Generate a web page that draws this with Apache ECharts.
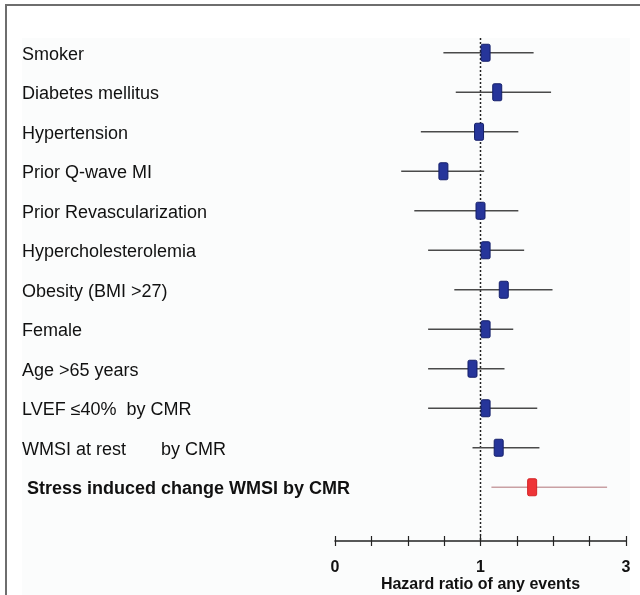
<!DOCTYPE html>
<html>
<head>
<meta charset="utf-8">
<script src="https://cdn.jsdelivr.net/npm/echarts@6/dist/echarts.min.js"></script>
<style>
  html, body { margin: 0; background: #fff; }
  #chart { width: 640px; height: 595px; }
</style>
</head>
<body>
<div id="chart"></div>
<script>
// risk factors, top to bottom
const factors = [
  'Smoker',
  'Diabetes mellitus',
  'Hypertension',
  'Prior Q-wave MI',
  'Prior Revascularization',
  'Hypercholesterolemia',
  'Obesity (BMI >27)',
  'Female',
  'Age >65 years',
  'LVEF \u226440%  by CMR',
  'WMSI at rest       by CMR',
  'Stress induced change WMSI by CMR',
];
const hazardRatio = [1.07, 1.23, 0.99, 0.745, 1.0, 1.07, 1.32, 1.07, 0.945, 1.07, 1.25, 1.71];
const ciLow = [0.745, 0.83, 0.59, 0.455, 0.545, 0.64, 0.82, 0.64, 0.64, 0.64, 0.945, 1.15];
const ciHigh = [1.73, 1.97, 1.52, 1.05, 1.52, 1.6, 1.99, 1.45, 1.33, 1.78, 1.81, 2.74];
const tickValues = [0, 1, 3];
const refValue = 1;

// split scale: 0..1 on left half, 1..3 on right half
const toAxis = v => (v <= 1 ? v : 1 + (v - 1) / 2);
const axisMax = toAxis(tickValues[tickValues.length - 1]);

const rows = factors.map((f, i) => [i, ciLow[i], ciHigh[i], hazardRatio[i]]);
const lastRow = factors.length - 1;

const chart = echarts.init(document.getElementById('chart'));

chart.setOption({
  animation: false,
  textStyle: { fontFamily: '"Liberation Sans", Arial, sans-serif' },
  graphic: [
    {
      type: 'rect',
      z: -10,
      shape: { x: 22, y: 38, width: 608, height: 557 },
      style: { fill: '#fbfcfc' },
    },
    {
      type: 'polyline',
      shape: { points: [[6, 595], [6, 5], [640, 5]] },
      style: { stroke: '#6e6e6e', lineWidth: 2, fill: null },
    },
  ],
  grid: [
    { left: 335, right: 14, top: 33, bottom: 88, outerBoundsMode: 'none' },
    { left: 335, right: 14, top: 38, bottom: 54, outerBoundsMode: 'none' },
  ],
  xAxis: [
    { gridIndex: 0, type: 'value', min: 0, max: axisMax, show: false },
    {
      gridIndex: 1,
      type: 'value',
      min: 0,
      max: axisMax,
      interval: 0.25,
      axisLine: { show: true, lineStyle: { color: '#222', width: 1.5 } },
      axisTick: { show: true, length: 5, lineStyle: { color: '#222', width: 1.2 } },
      splitLine: { show: false },
      axisLabel: {
        margin: 19,
        color: '#111',
        fontSize: 16,
        fontWeight: 'bold',
        formatter: v => {
          const hit = tickValues.find(t => Math.abs(toAxis(t) - v) < 1e-6);
          return hit === undefined ? '' : String(hit);
        },
      },
      name: 'Hazard ratio of any events',
      nameLocation: 'middle',
      nameGap: 36,
      nameMoveOverlap: false,
      nameTextStyle: { color: '#111', fontSize: 16, fontWeight: 'bold' },
    },
    {
      gridIndex: 1,
      type: 'value',
      position: 'bottom',
      min: 0,
      max: axisMax,
      interval: 0.25,
      axisLine: { show: false },
      axisTick: { show: true, inside: true, length: 5, lineStyle: { color: '#222', width: 1.2 } },
      axisLabel: { show: false },
      splitLine: { show: false },
    },
  ],
  yAxis: [
    {
      gridIndex: 0,
      type: 'category',
      data: factors,
      inverse: true,
      axisLine: { show: false },
      axisTick: { show: false },
      splitLine: { show: false },
      axisLabel: {
        align: 'left',
        margin: 313,
        color: '#111',
        fontSize: 18,
        lineHeight: 20,
        padding: [4, 0, 0, 0],
        formatter: (v, i) => (i === lastRow ? '{b|' + v + '}' : v),
        rich: {
          b: { fontSize: 18, fontWeight: 'bold', color: '#111', padding: [0, 0, 0, 5] },
        },
      },
    },
    { gridIndex: 1, type: 'value', min: 0, max: 1, show: false },
  ],
  series: [
    {
      type: 'custom',
      xAxisIndex: 1,
      yAxisIndex: 1,
      data: [[refValue]],
      renderItem: (params, api) => {
        const x = toAxis(api.value(0));
        const top = api.coord([x, 1]);
        const bottom = api.coord([x, 0]);
        return {
          type: 'line',
          shape: { x1: top[0], y1: top[1], x2: bottom[0], y2: bottom[1] },
          style: { stroke: '#222', lineWidth: 1.5, lineDash: [2, 2] },
        };
      },
    },
    {
      type: 'custom',
      xAxisIndex: 0,
      yAxisIndex: 0,
      z: 5,
      encode: { x: [1, 2, 3], y: 0 },
      data: rows,
      renderItem: (params, api) => {
        const row = api.value(0);
        const lo = api.coord([toAxis(api.value(1)), row]);
        const hi = api.coord([toAxis(api.value(2)), row]);
        const pt = api.coord([toAxis(api.value(3)), row]);
        const isKey = row === lastRow;
        const w = 9;
        const h = 17;
        return {
          type: 'group',
          children: [
            {
              type: 'line',
              shape: { x1: lo[0], y1: lo[1], x2: hi[0], y2: hi[1] },
              style: { stroke: isKey ? '#c9a0a3' : '#4a4a4a', lineWidth: 1.6 },
            },
            {
              type: 'rect',
              shape: { x: pt[0] - w / 2, y: pt[1] - h / 2, width: w, height: h, r: 1.5 },
              style: {
                fill: isKey ? '#ee3437' : '#26359a',
                stroke: isKey ? '#d42426' : '#141f6a',
                lineWidth: 1,
              },
            },
          ],
        };
      },
    },
  ],
});
</script>
</body>
</html>
